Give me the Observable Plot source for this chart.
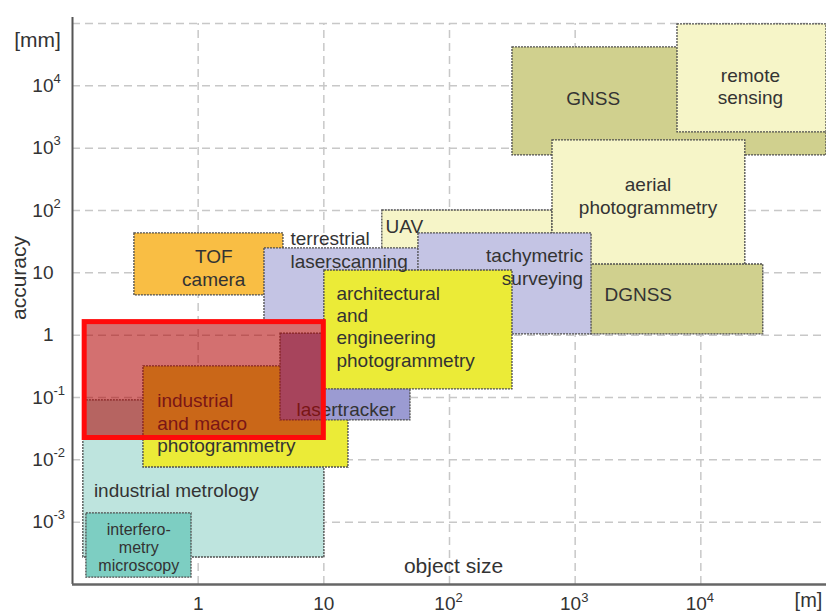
<!DOCTYPE html>
<html><head><meta charset="utf-8">
<script src="https://cdn.jsdelivr.net/npm/d3@7"></script>
<script src="https://cdn.jsdelivr.net/npm/@observablehq/plot@0.6"></script>
<style>body{margin:0;background:#fff;} svg{display:block;}</style>
</head><body><div id="chart"></div>
<script>
// Measurement methods: object size [m] range and accuracy [mm] range
const methods = ["GNSS", "remote sensing", "UAV", "aerial photogrammetry", "DGNSS", "TOF camera",
  "terrestrial laserscanning", "tachymetric surveying", "industrial metrology", "interferometry microscopy",
  "industrial and macro photogrammetry", "lasertracker", "architectural and engineering photogrammetry"];
const sizeMin = [317, 6520, 29.2, 660, 1300, 0.311, 3.37, 56.6, 0.122, 0.129, 0.367, 4.52, 10.1];
const sizeMax = [1e5, 1e5, 660, 22600, 31400, 4.77, 70, 1350, 10.1, 0.885, 15.7, 48.9, 317];
const accMin  = [764, 1790, 5, 5, 1.03, 4.34, 1.6, 1.03, 0.000271, 0.000129, 0.00754, 0.0428, 0.135];
const accMax  = [41300, 96600, 100, 1330, 13.6, 42.8, 24.6, 42.8, 0.0896, 0.00138, 0.315, 1.06, 10.9];
const boxColors = ["#d0d08e", "#f6f5c8", "#f6f5c8", "#f6f5c8", "#d0d08e", "#f9be44",
  "#c4c4e4", "#c4c4e4", "#bee4de", "#7dcec2", "#ebeb37", "#9b9bd2", "#ebeb37"];

// highlighted range (red frame)
const focusSize = [0.125, 10];
const focusAcc = [0.0224, 1.62];

// box labels
const labelText = ["GNSS", "remote\nsensing", "aerial\nphotogrammetry", "DGNSS", "UAV", "tachymetric\nsurveying",
  "terrestrial\nlaserscanning", "TOF\ncamera", "architectural\nand\nengineering\nphotogrammetry",
  "industrial\nand macro\nphotogrammetry", "lasertracker", "industrial metrology"];
const labelSize = [1390, 24800, 3800, 1710, 31, 1158, 5.43, 1.33, 12.6, 0.472, 6.05, 0.148];
const labelAcc  = [6500, 10000, 176, 4.6, 57.5, 12.7, 24, 12.3, 1.4, 0.0395, 0.0659, 0.00331];
const labelAlign = ["middle", "middle", "middle", "start", "start", "end", "start", "middle", "start", "start", "start", "start"];
const smallLabelText = ["interfero-\nmetry\nmicroscopy"];
const smallLabelSize = [0.337];
const smallLabelAcc = [0.000393];

// ticks
const xTickValues = [1, 10, 100, 1000, 10000];
const xTickBase = ["1", "10", "10", "10", "10"];
const xTickExp = ["", "", "2", "3", "4"];
const yTickValues = [1e4, 1e3, 1e2, 10, 1, 0.1, 0.01, 0.001];
const yTickBase = ["10", "10", "10", "10", "1", "10", "10", "10"];
const yTickExp = ["4", "3", "2", "", "", "-1", "-2", "-3"];
const yGrid = [1e-3, 1e-2, 1e-1, 1, 10, 1e2, 1e3, 1e4, 1e5];

const boxes = methods.map((m, i) => ({name: m, x1: sizeMin[i], x2: sizeMax[i], y1: accMin[i], y2: accMax[i]}));
const labels = labelText.map((t, i) => ({text: t, x: labelSize[i], y: labelAcc[i], align: labelAlign[i]}));
const smallLabels = smallLabelText.map((t, i) => ({text: t, x: smallLabelSize[i], y: smallLabelAcc[i]}));
const xTicks = xTickValues.map((v, i) => ({v, base: xTickBase[i], exp: xTickExp[i]}));
const yTicks = yTickValues.map((v, i) => ({v, base: yTickBase[i], exp: yTickExp[i]}));

const border = {stroke: "#4d4d4d", strokeWidth: 1.3, strokeDasharray: "2,1"};
const txt = {fill: "#333", fontSize: 19, lineHeight: 1.18};
const lbl = {fill: "#333", lineAnchor: "middle"};

const chart = Plot.plot({
  width: 826, height: 613,
  marginLeft: 72, marginRight: 0, marginTop: 23, marginBottom: 29,
  style: {fontFamily: "'Liberation Sans', Arial, sans-serif", background: "#fff", color: "#333"},
  x: {type: "log", domain: [0.1, 1e5], axis: null},
  y: {type: "log", domain: [1e-4, 1e5], axis: null},
  color: {domain: methods, range: boxColors},
  marks: [
    Plot.ruleX(xTickValues, {x: d => d, y1: 1e-4, y2: 1e5, stroke: "#c8c8c8", strokeWidth: 1.5, strokeDasharray: "8,5"}),
    Plot.ruleY(yGrid, {y: d => d, x1: 0.1, x2: 1e5, stroke: "#c8c8c8", strokeWidth: 1.5, strokeDasharray: "8,5"}),
    Plot.rect(boxes, {x1: "x1", x2: "x2", y1: "y1", y2: "y2", fill: "name", ...border}),
    Plot.text(labels.filter(d => d.align === "start"), {x: "x", y: "y", text: "text", textAnchor: "start", ...txt}),
    Plot.text(labels.filter(d => d.align === "middle"), {x: "x", y: "y", text: "text", textAnchor: "middle", ...txt}),
    Plot.text(labels.filter(d => d.align === "end"), {x: "x", y: "y", text: "text", textAnchor: "end", ...txt}),
    Plot.text(smallLabels, {x: "x", y: "y", text: "text", textAnchor: "middle", fill: "#333", fontSize: 16, lineHeight: 1.1}),
    Plot.rect([0], {x1: focusSize[0], x2: focusSize[1], y1: focusAcc[0], y2: focusAcc[1],
      fill: "#b10000", fillOpacity: 0.56, stroke: "#ff0a0a", strokeWidth: 5}),
    // axes
    Plot.ruleX([0.1], {y1: 1e-4, y2: 1.25e5, stroke: "#555", strokeWidth: 2}),
    Plot.ruleY([1e-4], {x1: 0.1, x2: 1e5, stroke: "#666", strokeWidth: 2.5}),
    // x tick labels
    Plot.text(xTicks.filter(d => !d.exp), {x: "v", text: "base", frameAnchor: "bottom", dy: 19, fontSize: 19, ...lbl}),
    Plot.text(xTicks.filter(d => d.exp), {x: "v", text: "base", frameAnchor: "bottom", dy: 19, dx: 6, textAnchor: "end", fontSize: 19, ...lbl}),
    Plot.text(xTicks.filter(d => d.exp), {x: "v", text: "exp", frameAnchor: "bottom", dy: 13, dx: 6, textAnchor: "start", fontSize: 13, ...lbl}),
    // y tick labels
    Plot.text(yTicks, {y: "v", text: "base", frameAnchor: "left", dx: -19, textAnchor: "end", fontSize: 19, ...lbl}),
    Plot.text(yTicks.filter(d => d.exp), {y: "v", text: "exp", frameAnchor: "left", dx: -19, dy: -7, textAnchor: "start", fontSize: 13, ...lbl}),
    // axis titles
    Plot.text(["[mm]"], {frameAnchor: "top-left", dx: -35, dy: 17, textAnchor: "middle", fontSize: 21, ...lbl}),
    Plot.text(["accuracy"], {frameAnchor: "left", dx: -53, dy: -26, rotate: -90, textAnchor: "middle", fontSize: 21, ...lbl}),
    Plot.text(["object size"], {frameAnchor: "bottom", dx: 4, dy: -18, textAnchor: "middle", fontSize: 21, ...lbl}),
    Plot.text(["[m]"], {frameAnchor: "bottom-right", dx: -18, dy: 16, textAnchor: "middle", fontSize: 20, ...lbl})
  ]
});
document.getElementById("chart").appendChild(chart);
</script>
</body></html>
